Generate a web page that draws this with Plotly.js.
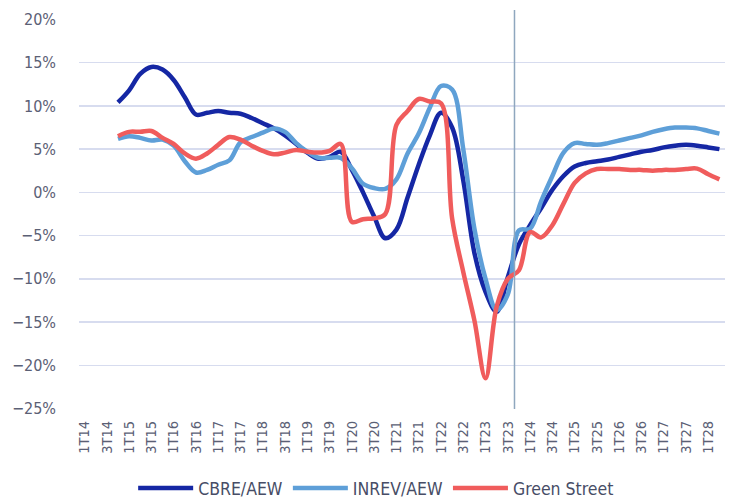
<!DOCTYPE html>
<html>
<head>
<meta charset="utf-8">
<script src="https://cdn.plot.ly/plotly-3.0.1.min.js"></script>
<style>
  html, body { margin: 0; padding: 0; background: #ffffff; }
  #chart { width: 729px; height: 499px; }
</style>
</head>
<body>
<div id="chart"></div>
<script>
// Quarters (category axis)
const categories = [
  '1T14','2T14','3T14','4T14','1T15','2T15','3T15','4T15','1T16','2T16','3T16','4T16',
  '1T17','2T17','3T17','4T17','1T18','2T18','3T18','4T18','1T19','2T19','3T19','4T19',
  '1T20','2T20','3T20','4T20','1T21','2T21','3T21','4T21','1T22','2T22','3T22','4T22',
  '1T23','2T23','3T23','4T23','1T24','2T24','3T24','4T24','1T25','2T25','3T25','4T25',
  '1T26','2T26','3T26','4T26','1T27','2T27','3T27','4T27','1T28','2T28'
];

// Tick labels shown on the axis
const tickLabels = [
  '1T14','3T14','1T15','3T15','1T16','3T16','1T17','3T17','1T18','3T18','1T19','3T19',
  '1T20','3T20','1T21','3T21','1T22','3T22','1T23','3T23','1T24','3T24','1T25','3T25',
  '1T26','3T26','1T27','3T27','1T28'
];

// Series values (%), one per quarter
const cbreAew = [null, null, null,
  10.4, 11.8, 13.7, 14.5, 14.2, 13.0, 11.0, 9.0, 9.2, 9.4, 9.2, 9.1, 8.6, 8.0, 7.4, 6.6,
  5.6, 4.6, 3.9, 4.1, 4.7, 2.6, 0.0, -2.8, -5.3, -4.3, -0.6, 3.2, 6.6, 9.2, 7.5, 1.4,
  -7.0, -11.5, -13.8, -9.8, -6.0, -3.8, -1.8, 0.3, 1.9, 3.0, 3.4, 3.6, 3.8, 4.1, 4.4,
  4.7, 4.9, 5.2, 5.4, 5.5, 5.4, 5.2, 5.0];

const inrevAew = [null, null, null,
  6.2, 6.5, 6.3, 6.0, 6.1, 5.4, 3.6, 2.3, 2.6, 3.2, 3.7, 5.8, 6.4, 6.9, 7.4, 7.0,
  5.7, 4.7, 4.0, 4.0, 4.0, 2.8, 1.0, 0.5, 0.4, 1.5, 4.5, 6.8, 9.8, 12.3, 11.9, 5.0,
  -4.2, -10.0, -13.6, -11.8, -4.4, -4.2, -1.0, 1.9, 4.6, 5.7, 5.6, 5.5, 5.7, 6.0, 6.3,
  6.6, 7.0, 7.3, 7.5, 7.5, 7.4, 7.1, 6.8];

const greenStreet = [null, null, null,
  6.5, 7.0, 7.0, 7.1, 6.3, 5.6, 4.5, 3.9, 4.5, 5.5, 6.4, 6.1, 5.4, 4.8, 4.4, 4.6,
  4.9, 4.7, 4.6, 4.8, 5.6, -3.4, -3.1, -3.0, -2.5, 7.8, 9.4, 10.8, 10.5, 10.3, -3.0, -9.2,
  -14.8, -21.5, -13.2, -10.0, -9.0, -4.6, -5.2, -3.8, -1.3, 1.1, 2.2, 2.7, 2.7, 2.7, 2.6,
  2.6, 2.5, 2.6, 2.6, 2.7, 2.75, 2.1, 1.5];

const seriesNames = ['CBRE/AEW', 'INREV/AEW', 'Green Street'];

// Forecast divider sits between 3T23 and 4T23
const dividerIndex = categories.indexOf('3T23') + 0.6;

const FONT = "'Liberation Sans Narrow', 'DejaVu Sans Condensed', 'Roboto Condensed', 'Liberation Sans', sans-serif";

const mk = (y, name, color) => ({
  type: 'scatter', mode: 'lines', x: categories, y: y, name: name,
  line: { color: color, width: 4.5, shape: 'spline', smoothing: 1 },
  connectgaps: false, hoverinfo: 'skip'
});

const data = [
  mk(cbreAew, seriesNames[0], '#1527A4'),
  mk(inrevAew, seriesNames[1], '#5E9FD8'),
  mk(greenStreet, seriesNames[2], '#F05C5C')
];

const layout = {
  width: 729, height: 499,
  margin: { l: 79, r: 4, t: 19, b: 90, autoexpand: false },
  paper_bgcolor: '#ffffff', plot_bgcolor: '#ffffff',
  showlegend: true,
  legend: {
    orientation: 'h', x: 0.46, xanchor: 'center',
    yref: 'container', y: 0.022, yanchor: 'middle',
    font: { family: FONT, size: 17.5, color: '#474d66' },
    itemwidth: 55, tracegroupgap: 0, bgcolor: 'rgba(0,0,0,0)'
  },
  xaxis: {
    type: 'category', categoryorder: 'array', categoryarray: categories,
    range: [-0.5, categories.length - 0.5],
    tickmode: 'array', tickvals: tickLabels, ticktext: tickLabels,
    tickangle: -90, ticks: '', ticklabelstandoff: 8,
    tickfont: { family: FONT, size: 14.5, color: '#5b6075' },
    showgrid: false, zeroline: false, showline: false, fixedrange: true, automargin: false
  },
  yaxis: {
    range: [-25.05, 20.05], tickmode: 'linear', tick0: -25, dtick: 5,
    ticksuffix: '%', ticks: '', ticklabelstandoff: 22,
    tickfont: { family: FONT, size: 16, color: '#5b6075' },
    showgrid: true, gridcolor: '#D7DCEF', gridwidth: 1.6,
    zeroline: false, showline: false, fixedrange: true, automargin: false
  },
  shapes: [{
    type: 'line', xref: 'x', yref: 'paper',
    x0: dividerIndex, x1: dividerIndex, y0: 0, y1: 1.023,
    line: { color: '#8FA7BE', width: 1.5 }, layer: 'above'
  }]
};

Plotly.newPlot('chart', data, layout, { displayModeBar: false, staticPlot: true });
</script>
</body>
</html>
